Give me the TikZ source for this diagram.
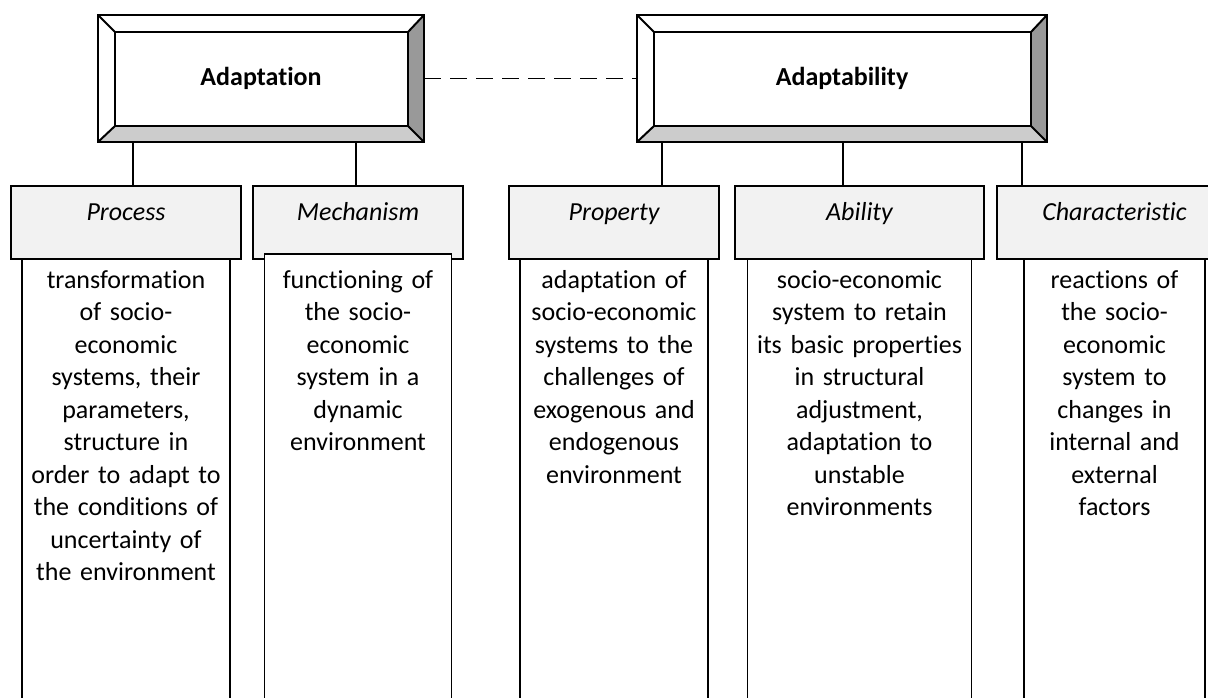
\documentclass[tikz,border=0pt]{standalone}
\usepackage{fontspec}
\setmainfont{Carlito}[Ligatures=NoCommon]
\usepackage{tikz}
\usetikzlibrary{positioning}
\definecolor{bevelside}{HTML}{999999}
\definecolor{bevelbase}{HTML}{CCCCCC}
\definecolor{termfill}{HTML}{F2F2F2}
\newcommand{\diagfont}{\fontsize{26}{32.5}\selectfont}
\tikzstyle{header} = [draw, line width=2.6pt, fill=white, outer sep=0pt, minimum height=127pt, font=\diagfont\bfseries]
\tikzstyle{term} = [draw, line width=1.2pt, fill=termfill, outer sep=0pt, inner ysep=0pt, text height=34pt, text depth=39pt, font=\diagfont\itshape]
\tikzstyle{descr} = [draw, line width=1.2pt, fill=white, outer sep=0pt, inner xsep=2pt, inner ysep=0pt, align=center, text height=29pt, text depth=425pt, font=\diagfont]
\tikzstyle{link} = [line width=1.2pt]
\newcommand{\headbevel}[1]{%
  \coordinate (#1-a) at ([xshift=17pt,yshift=-17pt]#1.north west);
  \coordinate (#1-b) at ([xshift=-16pt,yshift=-17pt]#1.north east);
  \coordinate (#1-c) at ([xshift=-16pt,yshift=16pt]#1.south east);
  \coordinate (#1-d) at ([xshift=17pt,yshift=16pt]#1.south west);
  \fill[bevelside] (#1.north east) -- (#1-b) -- (#1-c) -- (#1.south east) -- cycle;
  \fill[bevelbase] (#1.south east) -- (#1-c) -- (#1-d) -- (#1.south west) -- cycle;
  \draw[line width=2.4pt] (#1-a) rectangle (#1-c);
  \draw[line width=2pt] (#1.north west) -- (#1-a) (#1.north east) -- (#1-b)
    (#1.south east) -- (#1-c) (#1.south west) -- (#1-d);
  \draw[line width=2.6pt] (#1.north west) rectangle (#1.south east);
}

\begin{document}
\begin{tikzpicture}[x=1pt, y=-1pt, font=\diagfont]
		\useasboundingbox (0,0) rectangle (1208,697);
		
		\node [header, minimum width=326pt] (adapt) at (261,78.5) {Adaptation};
		\node [header, minimum width=410pt] (adaptb) at (842,78.5) {Adaptability};
		\headbevel{adapt}
		\headbevel{adaptb}
		\draw [link, dash pattern=on 17pt off 9pt] (adapt.east) -- (adaptb.west);
		
		\node [term, minimum width=230pt, anchor=north west] (proc) at (11,186) {Process};
		\node [term, minimum width=210pt, right=12pt of proc] (mech) {Mechanism};
		\node [term, minimum width=210pt, right=46pt of mech] (prop) {Property};
		\node [term, minimum width=249pt, right=16pt of prop] (abil) {Ability};
		\node [term, minimum width=235pt, right=13pt of abil] (charc) {Characteristic};
		
		\node [descr, text width=204pt, below=0pt of proc] (proctxt) {transformation\\of socio-\\economic\\systems, their\\parameters,\\structure in\\order to adapt to\\the conditions of\\uncertainty of\\the environment};
		\node [descr, text width=183pt, text height=34pt, below=-5pt of mech] (mechtxt) {functioning of\\the socio-\\economic\\system in a\\dynamic\\environment};
		\node [descr, text width=184pt, below=0pt of prop] (proptxt) {adaptation of\\socio-economic\\systems to the\\challenges of\\exogenous and\\endogenous\\environment};
		\node [descr, text width=220pt, below=0pt of abil] (abiltxt) {socio-economic\\system to retain\\its basic properties\\in structural\\adjustment,\\adaptation to\\unstable\\environments};
		\node [descr, text width=177pt, below=0pt of charc] (charctxt) {reactions of\\the socio-\\economic\\system to\\changes in\\internal and\\external\\factors};
		
		\draw [link] (proc.north) ++(7,0) coordinate (l1) -- (l1 |- adapt.south);
		\draw [link] (mech.north) ++(-2,0) coordinate (l2) -- (l2 |- adapt.south);
		\draw [link] (prop.north) ++(48,0) coordinate (l3) -- (l3 |- adaptb.south);
		\draw [link] (abil.north) ++(-16.5,0) coordinate (l4) -- (l4 |- adaptb.south);
		\draw [link] (charc.north) ++(-92.5,0) coordinate (l5) -- (l5 |- adaptb.south);
		
\end{tikzpicture}
\end{document}
